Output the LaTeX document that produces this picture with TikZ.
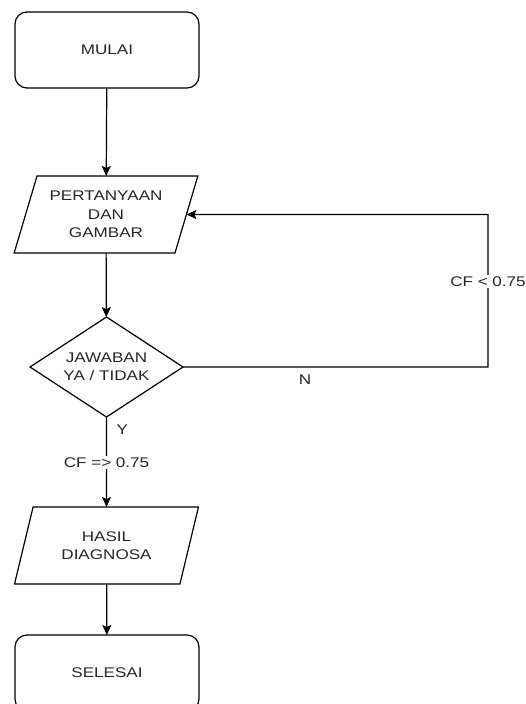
\documentclass[tikz,border=0pt]{standalone}
\usepackage{fontspec}
\setmainfont{Liberation Sans}[FakeStretch=1.22]
\usetikzlibrary{shapes.geometric,arrows.meta}
\tikzset{
  base/.style={draw=black, line width=1.2pt, text=black!85, font=\fontsize{14}{18.3}\selectfont, align=center, inner sep=0pt, outer sep=0pt},
  term/.style={base, rectangle, rounded corners=12pt, minimum width=184pt, minimum height=76pt},
  io/.style={base, trapezium, trapezium left angle=68, trapezium right angle=112, trapezium stretches=true, minimum width=184pt, minimum height=77pt},
  decide/.style={base, diamond, aspect=1.53, minimum width=153pt, minimum height=100pt},
  arr/.style={draw=black, line width=1.2pt, -{Stealth[length=10pt,width=9pt,inset=2pt]}},
  lbl/.style={text=black!85, font=\fontsize{14}{17}\selectfont, inner sep=1.5pt}
}
\begin{document}
\begin{tikzpicture}[x=1pt,y=-1pt]
\clip (0,0) rectangle (526,704);
\node[term] (mulai) at (107,50) {MULAI};
\node[io] (pert) at (106,214.5) {PERTANYAAN\\DAN\\GAMBAR};
\node[decide] (dia) at (106.5,367) {JAWABAN\\YA / TIDAK};
\node[io] (hasil) at (106.5,545.5) {HASIL\\DIAGNOSA};
\node[term] (selesai) at (107,673) {SELESAI};
\coordinate (c1) at (488,367);
\coordinate (c2) at (488,214.5);
\draw[arr] (mulai) -- (pert);
\draw[arr] (pert) -- (dia);
\draw[arr] (dia.south) -- node[lbl, pos=0.14, anchor=west, xshift=8pt] {Y} node[lbl, pos=0.51, fill=white] {CF => 0.75} (hasil.north);
\draw[arr] (hasil) -- (selesai);
\draw[arr] (dia.east) -- node[lbl, pos=0.4, below=6pt] {N} (c1) -- node[lbl, pos=0.56, fill=white] {CF < 0.75} (c2) -- (pert.east);
\end{tikzpicture}
\end{document}
